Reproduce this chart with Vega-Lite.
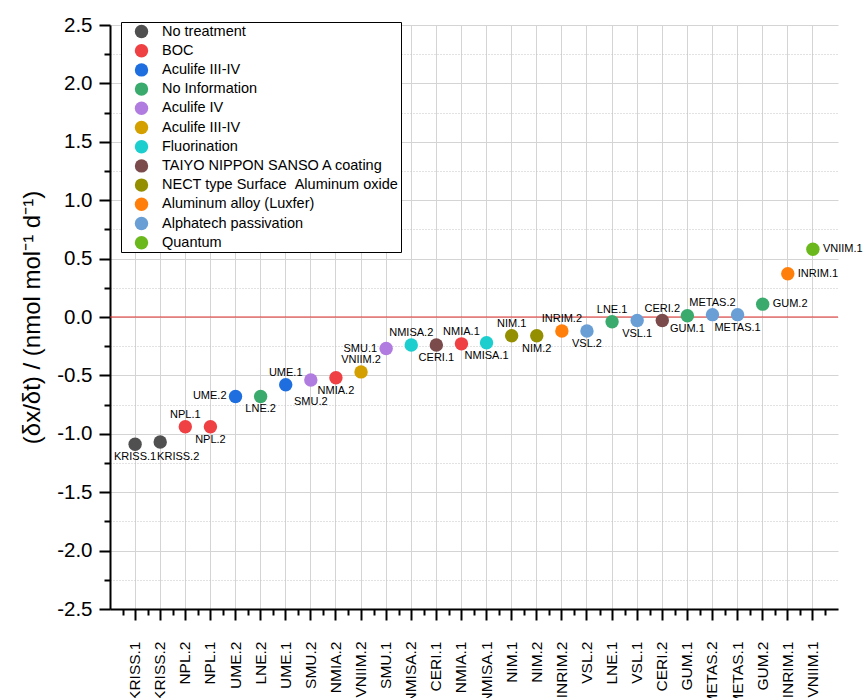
{
  "$schema": "https://vega.github.io/schema/vega-lite/v6.json",
  "width": 728,
  "height": 584,
  "autosize": {"type": "none"},
  "padding": {"left": 110, "top": 25, "right": 26, "bottom": 89},
  "background": "white",
  "config": {
    "view": {"stroke": null},
    "font": "Liberation Sans",
    "axis": {"domainColor": "black", "tickColor": "black", "labelColor": "black", "titleColor": "black", "gridColor": "#d4d4d4", "gridWidth": 1}
  },
  "data": {
    "values": [
      {"cat": "KRISS.1", "lab": "KRISS.1", "v": -1.09, "g": "No treatment"},
      {"cat": "KRISS.2", "lab": "KRISS.2", "v": -1.07, "g": "No treatment"},
      {"cat": "NPL.2", "lab": "NPL.1", "v": -0.94, "g": "BOC"},
      {"cat": "NPL.1", "lab": "NPL.2", "v": -0.94, "g": "BOC"},
      {"cat": "UME.2", "lab": "UME.2", "v": -0.68, "g": "Aculife III-IV"},
      {"cat": "LNE.2", "lab": "LNE.2", "v": -0.68, "g": "No Information"},
      {"cat": "UME.1", "lab": "UME.1", "v": -0.58, "g": "Aculife III-IV"},
      {"cat": "SMU.2", "lab": "SMU.2", "v": -0.54, "g": "Aculife IV"},
      {"cat": "NMIA.2", "lab": "NMIA.2", "v": -0.52, "g": "BOC"},
      {"cat": "VNIIM.2", "lab": "VNIIM.2", "v": -0.47, "g": "Aculife III-IV "},
      {"cat": "SMU.1", "lab": "SMU.1", "v": -0.27, "g": "Aculife IV"},
      {"cat": "NMISA.2", "lab": "NMISA.2", "v": -0.24, "g": "Fluorination"},
      {"cat": "CERI.1", "lab": "CERI.1", "v": -0.24, "g": "TAIYO NIPPON SANSO A coating"},
      {"cat": "NMIA.1", "lab": "NMIA.1", "v": -0.23, "g": "BOC"},
      {"cat": "NMISA.1", "lab": "NMISA.1", "v": -0.22, "g": "Fluorination"},
      {"cat": "NIM.1", "lab": "NIM.1", "v": -0.16, "g": "NECT type Surface \u00a0Aluminum oxide"},
      {"cat": "NIM.2", "lab": "NIM.2", "v": -0.16, "g": "NECT type Surface \u00a0Aluminum oxide"},
      {"cat": "INRIM.2", "lab": "INRIM.2", "v": -0.12, "g": "Aluminum alloy (Luxfer)"},
      {"cat": "VSL.2", "lab": "VSL.2", "v": -0.12, "g": "Alphatech passivation"},
      {"cat": "LNE.1", "lab": "LNE.1", "v": -0.04, "g": "No Information"},
      {"cat": "VSL.1", "lab": "VSL.1", "v": -0.03, "g": "Alphatech passivation"},
      {"cat": "CERI.2", "lab": "CERI.2", "v": -0.03, "g": "TAIYO NIPPON SANSO A coating"},
      {"cat": "GUM.1", "lab": "GUM.1", "v": 0.01, "g": "No Information"},
      {"cat": "METAS.2", "lab": "METAS.2", "v": 0.02, "g": "Alphatech passivation"},
      {"cat": "METAS.1", "lab": "METAS.1", "v": 0.02, "g": "Alphatech passivation"},
      {"cat": "GUM.2", "lab": "GUM.2", "v": 0.11, "g": "No Information"},
      {"cat": "INRIM.1", "lab": "INRIM.1", "v": 0.37, "g": "Aluminum alloy (Luxfer)"},
      {"cat": "VNIIM.1", "lab": "VNIIM.1", "v": 0.58, "g": "Quantum"}
    ]
  },
  "resolve": {"axis": {"x": "independent", "y": "independent"}},
  "layer": [
    {
      "data": {"values": [{"z": 0}]},
      "mark": {"type": "rule", "color": "#e3312f", "strokeWidth": 1},
      "encoding": {
        "y": {
          "field": "z", "type": "quantitative",
          "scale": {"domain": [-2.5, 2.5], "nice": false, "zero": false},
          "axis": {"orient": "left", "values": [-2.25, -1.75, -1.25, -0.75, -0.25, 0.25, 0.75, 1.25, 1.75, 2.25], "labels": false, "domain": false, "tickSize": 6, "tickWidth": 2, "grid": true, "gridDash": [1, 2], "gridColor": "#c4c4c4", "title": null}
        }
      }
    },
    {
      "mark": {"type": "point", "filled": true, "shape": "circle", "size": 180, "opacity": 1},
      "encoding": {
        "x": {
          "field": "cat", "type": "nominal", "sort": null,
          "scale": {"type": "band", "paddingInner": 0, "paddingOuter": 0.5},
          "axis": {"orient": "bottom", "title": null, "labelAngle": -90, "labelFontSize": 15.5, "labelPadding": 21, "tickSize": 11, "tickWidth": 2, "domainWidth": 2, "grid": true}
        },
        "y": {
          "field": "v", "type": "quantitative",
          "scale": {"domain": [-2.5, 2.5], "nice": false, "zero": false},
          "axis": {"orient": "left", "values": [-2.5, -2, -1.5, -1, -0.5, 0, 0.5, 1, 1.5, 2, 2.5], "labelExpr": "replace(format(datum.value, '.1f'), '\u2212', '-')", "labelFontSize": 20.5, "labelPadding": 7, "tickSize": 11, "tickWidth": 2, "domainWidth": 2, "grid": true, "title": "(δx/δt) / (nmol mol⁻¹ d⁻¹)", "titleFontSize": 24, "titleFontWeight": "normal", "titlePadding": 12}
        },
        "color": {
          "field": "g", "type": "nominal",
          "scale": {
            "domain": ["No treatment", "BOC", "Aculife III-IV", "No Information", "Aculife IV", "Aculife III-IV ", "Fluorination", "TAIYO NIPPON SANSO A coating", "NECT type Surface \u00a0Aluminum oxide", "Aluminum alloy (Luxfer)", "Alphatech passivation", "Quantum"],
            "range": ["#505050", "#ef4043", "#1e6ee0", "#3aab6c", "#b07ce0", "#d4a000", "#1ccece", "#7b4a4a", "#948f00", "#ff7f0a", "#6a9fd6", "#6bb81c"]
          },
          "legend": {"orient": "none", "legendX": 11, "legendY": -3, "title": null, "strokeColor": "black", "fillColor": "white", "padding": 2, "symbolSize": 180, "symbolType": "circle", "labelFontSize": 14.5, "rowPadding": 3.2, "symbolOffset": 11, "labelOffset": 13, "labelLimit": 400, "labelColor": "black"}
        }
      }
    },
    {
      "transform": [{"filter": {"field": "lab", "oneOf": ["NPL.1", "UME.1", "VNIIM.2", "NMISA.2", "NMIA.1", "NIM.1", "INRIM.2", "LNE.1", "CERI.2", "METAS.2"]}}],
      "mark": {"type": "text", "fontSize": 11, "color": "black", "dy": -12, "align": "center", "baseline": "middle"},
      "encoding": {
        "x": {"field": "cat", "type": "nominal", "sort": null, "axis": {"orient": "bottom", "tickBand": "extent", "labels": false, "domain": false, "grid": false, "tickSize": 6, "tickWidth": 2, "title": null}},
        "y": {"field": "v", "type": "quantitative", "axis": null},
        "text": {"field": "lab"}
      }
    },
    {
      "transform": [{"filter": {"field": "lab", "oneOf": ["KRISS.1", "NPL.2", "LNE.2", "NMIA.2", "CERI.1", "NMISA.1", "NIM.2", "VSL.2", "VSL.1", "GUM.1", "METAS.1"]}}],
      "mark": {"type": "text", "fontSize": 11, "color": "black", "dy": 13, "align": "center", "baseline": "middle"},
      "encoding": {
        "x": {"field": "cat", "type": "nominal", "sort": null, "axis": null},
        "y": {"field": "v", "type": "quantitative", "axis": null},
        "text": {"field": "lab"}
      }
    },
    {
      "transform": [{"filter": {"field": "lab", "oneOf": ["SMU.2"]}}],
      "mark": {"type": "text", "fontSize": 11, "color": "black", "dy": 22, "align": "center", "baseline": "middle"},
      "encoding": {
        "x": {"field": "cat", "type": "nominal", "sort": null, "axis": null},
        "y": {"field": "v", "type": "quantitative", "axis": null},
        "text": {"field": "lab"}
      }
    },
    {
      "transform": [{"filter": {"field": "lab", "oneOf": ["KRISS.2"]}}],
      "mark": {"type": "text", "fontSize": 11, "color": "black", "dy": 15, "dx": 18, "align": "center", "baseline": "middle"},
      "encoding": {
        "x": {"field": "cat", "type": "nominal", "sort": null, "axis": null},
        "y": {"field": "v", "type": "quantitative", "axis": null},
        "text": {"field": "lab"}
      }
    },
    {
      "transform": [{"filter": {"field": "lab", "oneOf": ["UME.2", "SMU.1"]}}],
      "mark": {"type": "text", "fontSize": 11, "color": "black", "dx": -9, "align": "right", "baseline": "middle"},
      "encoding": {
        "x": {"field": "cat", "type": "nominal", "sort": null, "axis": null},
        "y": {"field": "v", "type": "quantitative", "axis": null},
        "text": {"field": "lab"}
      }
    },
    {
      "transform": [{"filter": {"field": "lab", "oneOf": ["GUM.2", "INRIM.1", "VNIIM.1"]}}],
      "mark": {"type": "text", "fontSize": 11, "color": "black", "dx": 10, "align": "left", "baseline": "middle"},
      "encoding": {
        "x": {"field": "cat", "type": "nominal", "sort": null, "axis": null},
        "y": {"field": "v", "type": "quantitative", "axis": null},
        "text": {"field": "lab"}
      }
    }
  ]
}
